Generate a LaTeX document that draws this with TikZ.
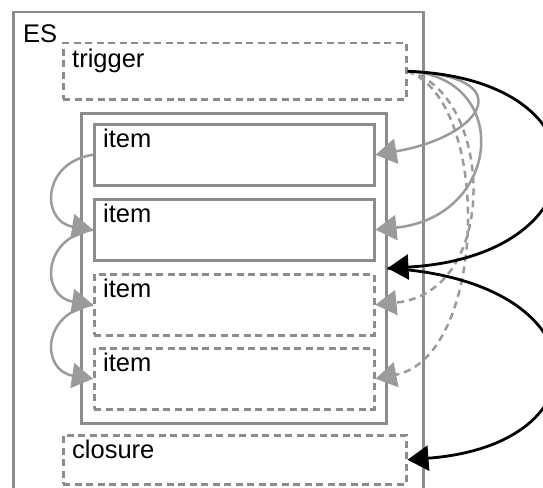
\documentclass[tikz,border=0pt]{standalone}
\usepackage{fontspec}
\setmainfont{Liberation Sans}
\usetikzlibrary{arrows.meta}
\definecolor{boxgray}{RGB}{140,140,140}
\definecolor{arrgray}{RGB}{155,155,155}
\tikzset{
  box/.style={draw=boxgray, line width=2.5pt, rectangle, inner sep=0pt, anchor=north west},
  dbox/.style={box, dash pattern=on 7pt off 4.5pt},
  lbl/.style={anchor=base west, inner sep=0pt, font=\fontsize{25.5}{30}\selectfont},
  garr/.style={draw=arrgray, line width=2.5pt, -{Triangle[length=21pt,width=25pt]}},
  gdarr/.style={garr, dash pattern=on 7pt off 5pt},
  barr/.style={draw=black, line width=2.8pt, -{Triangle[length=21pt,width=25pt]}},
}
\begin{document}
\begin{tikzpicture}[x=1pt,y=-1pt]
\useasboundingbox (0,0) rectangle (543,487);
\clip (0,0) rectangle (543,487);
% boxes
\node[box, minimum width=410pt, minimum height=520pt] (es) at (12,11) {};
\node[dbox, minimum width=343pt, minimum height=56pt] (trigger) at (62,42) {};
\node[box, minimum width=305pt, minimum height=310pt] (cont) at (80,112) {};
\node[box, minimum width=280pt, minimum height=61pt] (item1) at (93,123) {};
\node[box, minimum width=280pt, minimum height=61pt] (item2) at (93,198) {};
\node[dbox, minimum width=280pt, minimum height=61pt] (item3) at (93,273) {};
\node[dbox, minimum width=280pt, minimum height=61pt] (item4) at (93,347) {};
\node[dbox, minimum width=343pt, minimum height=49pt] (closure) at (62,434) {};
% labels
\node[lbl] (esl) at ([shift={(11,32)}]es.north west) {ES};
\node[lbl] (tl) at ([shift={(10,25)}]trigger.north west) {trigger};
\node[lbl] (i1l) at ([shift={(10,24)}]item1.north west) {item};
\node[lbl] (i2l) at ([shift={(10,24)}]item2.north west) {item};
\node[lbl] (i3l) at ([shift={(10,24)}]item3.north west) {item};
\node[lbl] (i4l) at ([shift={(10,24)}]item4.north west) {item};
\node[lbl] (cl) at ([shift={(10,24)}]closure.north west) {closure};
% left chain
\draw[garr] (item1.west) .. controls +(-52,8) and +(-52,-8) .. (item2.west);
\draw[garr] (item2.west) .. controls +(-52,8) and +(-52,-8) .. (item3.west);
\draw[garr] (item3.west) .. controls +(-52,8) and +(-52,-8) .. (item4.west);
% right arcs from trigger
\draw[garr] (trigger.east) .. controls +(115,5) and +(107,-18) .. (item1.east);
\draw[garr] (trigger.east) .. controls +(105,5) and +(127,-13) .. (item2.east);
\draw[gdarr] (trigger.east) .. controls +(85,20) and +(127,-13) .. (item3.east);
\draw[gdarr] (trigger.east) .. controls +(85,30) and +(112,-22) .. (item4.east);
% black arcs
\draw[barr] (trigger.east) .. controls +(205,8) and +(215,-12) .. (cont.east);
\draw[barr] (cont.east) .. controls +(215,12) and +(200,-15) .. (closure.east);
\end{tikzpicture}
\end{document}
